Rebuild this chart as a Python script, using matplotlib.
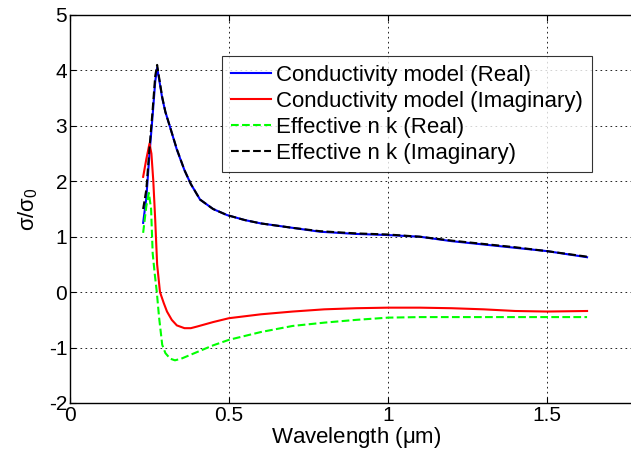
import matplotlib
matplotlib.use('Agg')
import matplotlib.pyplot as plt

plt.rcParams['font.family'] = ['Liberation Sans', 'DejaVu Sans']
plt.rcParams['mathtext.fontset'] = 'custom'
plt.rcParams['mathtext.rm'] = 'Liberation Sans'
plt.rcParams['mathtext.it'] = 'Liberation Sans'
plt.rcParams['axes.unicode_minus'] = False

# --- data ---
wl_blue = [0.23, 0.24, 0.25, 0.26, 0.268, 0.274, 0.28, 0.29, 0.30, 0.314, 0.336, 0.36, 0.38,
           0.409, 0.45, 0.494, 0.55, 0.6, 0.7, 0.786, 0.9, 1.0, 1.1, 1.2, 1.3, 1.4, 1.5, 1.626]
cond_real = [1.25, 1.7, 2.5, 3.2, 3.8, 4.05, 3.85, 3.5, 3.25, 2.99, 2.57, 2.2, 1.95,
             1.67, 1.5, 1.39, 1.3, 1.24, 1.16, 1.09, 1.05, 1.03, 1.0, 0.92, 0.86, 0.8, 0.74, 0.63]
eff_imag = [1.5, 1.85, 2.6, 3.3, 3.9, 4.1, 3.88, 3.52, 3.25, 2.99, 2.58, 2.2, 1.95,
            1.67, 1.5, 1.39, 1.3, 1.24, 1.16, 1.1, 1.06, 1.04, 1.0, 0.93, 0.87, 0.81, 0.74, 0.64]

wl_red = [0.23, 0.24, 0.25, 0.256, 0.262, 0.268, 0.274, 0.283, 0.295, 0.305, 0.32, 0.336, 0.36,
          0.38, 0.4, 0.45, 0.5, 0.6, 0.7, 0.8, 0.9, 1.0, 1.1, 1.2, 1.3, 1.4, 1.5, 1.626]
cond_imag = [2.08, 2.4, 2.68, 2.5, 2.0, 1.3, 0.5, 0.0, -0.2, -0.35, -0.5, -0.6, -0.65,
             -0.65, -0.62, -0.54, -0.47, -0.4, -0.35, -0.31, -0.29, -0.28, -0.28, -0.29,
             -0.31, -0.34, -0.35, -0.34]

wl_green = [0.23, 0.24, 0.248, 0.255, 0.26, 0.267, 0.273, 0.28, 0.29, 0.30, 0.315, 0.33, 0.35,
            0.4, 0.45, 0.5, 0.6, 0.7, 0.8, 0.9, 1.0, 1.1, 1.3, 1.5, 1.626]
eff_real = [1.07, 1.55, 1.79, 1.5, 0.7, 0.3, 0.0, -0.45, -0.95, -1.1, -1.2, -1.23, -1.2,
            -1.08, -0.96, -0.86, -0.72, -0.61, -0.55, -0.5, -0.46, -0.45, -0.45, -0.45, -0.45]

fig = plt.figure(figsize=(6.31, 4.55), dpi=100)
# right edge of the axes lies past the picture, as in the reference
ax = fig.add_axes([70 / 631, 1 - 403 / 455, 572.4 / 631, 388 / 455])

ax.plot(wl_blue, cond_real, color='#0000ff', lw=1.5, label='Conductivity model (Real)')
ax.plot(wl_red, cond_imag, color='#ff0000', lw=1.5, label='Conductivity model (Imaginary)')
ax.plot(wl_green, eff_real, color='#00ff00', lw=1.5, ls='--', label='Effective n k (Real)')
ax.plot(wl_blue, eff_imag, color='black', lw=1.5, ls='--', label='Effective n k (Imaginary)')

ax.set_xlim(0, 1.8)
ax.set_ylim(-2, 5)
ax.set_xticks([0, 0.5, 1, 1.5])
ax.set_xticklabels(['0', '0.5', '1', '1.5'])
ax.set_yticks(range(-2, 6))
ax.grid(True, color='black', ls=(0, (2, 4)), lw=0.6)
ax.tick_params(direction='in', length=4, labelsize=15, top=True, right=True, pad=2)
for s in ax.spines.values():
    s.set_linewidth(1.0)

ax.set_xlabel('Wavelength ($\\mu$m)', fontsize=16, labelpad=0)
ax.set_ylabel('$\\sigma$/$\\sigma_0$', fontsize=16, labelpad=6)

leg = ax.legend(loc='upper left', bbox_to_anchor=(222 / 631, 1 - 56 / 455),
                bbox_transform=fig.transFigure, fontsize=16, frameon=True, fancybox=False,
                borderpad=0.4, labelspacing=0.22, handlelength=1.8, handletextpad=0.25,
                borderaxespad=0)
leg.get_frame().set_edgecolor('black')
leg.get_frame().set_linewidth(0.8)

fig.savefig('out.png', dpi=100)
